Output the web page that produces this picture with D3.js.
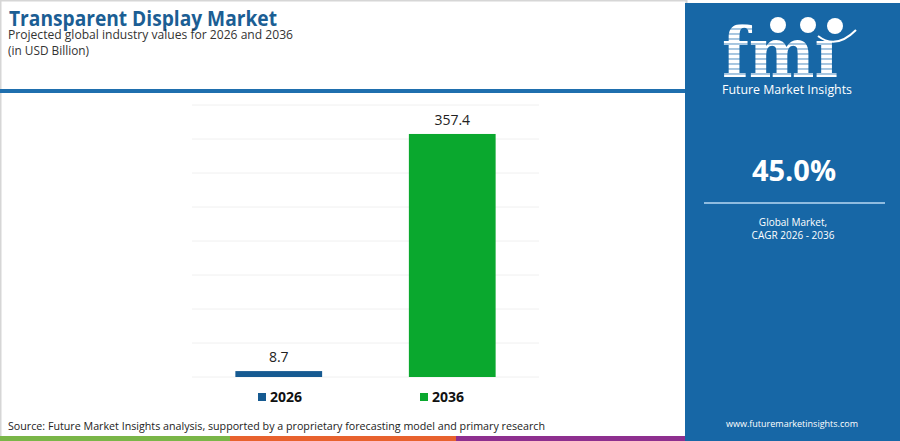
<!DOCTYPE html>
<html>
<head>
<meta charset="utf-8">
<script src="https://cdn.jsdelivr.net/npm/d3@7"></script>
<style>
  body { margin: 0; background: #fff; }
  text { font-family: "Open Sans", sans-serif; }
</style>
</head>
<body>
<div id="chart"></div>
<script>
// values
const years = ["2026", "2036"]
const values = [8.7, 357.4]
const barColors = ["#165a91", "#0aa82e"]
const yTicks = [0, 50, 100, 150, 200, 250, 300, 350, 400]
const cagr = "45.0%"
const stripeColors = ["#7ab648", "#e8622e", "#8e2f8f"]

const W = 900, H = 441

let svg = d3.select("#chart").append("svg")
    .attr("width", W)
    .attr("height", H)

// frame
svg.append("rect")
    .attr("x", 0.5).attr("y", 0.5)
    .attr("width", 686).attr("height", H - 1)
    .attr("fill", "#fff")
    .attr("stroke", "#d6d6d6")
    .attr("stroke-width", 2)

// title block
svg.append("text")
    .attr("x", 9).attr("y", 26)
    .text("Transparent Display Market")
    .attr("textLength", 268)
    .attr("lengthAdjust", "spacingAndGlyphs")
    .style("font-size", "22px")
    .style("font-weight", "bold")
    .attr("fill", "#1b5e94")

svg.append("text")
    .attr("x", 8).attr("y", 39)
    .text("Projected global industry values for 2026 and 2036")
    .attr("textLength", 285)
    .attr("lengthAdjust", "spacingAndGlyphs")
    .style("font-size", "13px")
    .attr("fill", "#333")

svg.append("text")
    .attr("x", 8).attr("y", 55)
    .text("(in USD Billion)")
    .attr("textLength", 81)
    .attr("lengthAdjust", "spacingAndGlyphs")
    .style("font-size", "13px")
    .attr("fill", "#333")

svg.append("rect")
    .attr("x", 0).attr("y", 89)
    .attr("width", 686).attr("height", 4)
    .attr("fill", "#1f6fae")

// plot
const x = d3.scaleBand()
    .domain(years)
    .range([192, 539])
    .paddingInner(0.5)
    .paddingOuter(0.25)

const y = d3.scaleLinear()
    .domain([0, 400])
    .range([377, 105])

svg.append("g")
    .selectAll("line")
    .data(yTicks)
    .join("line")
    .attr("x1", 192).attr("x2", 539)
    .attr("y1", d => y(d)).attr("y2", d => y(d))
    .attr("stroke", "#f0f0f0")
    .attr("stroke-width", 1)

svg.append("g")
    .selectAll("rect")
    .data(values)
    .join("rect")
    .attr("x", (d, i) => x(years[i]))
    .attr("width", x.bandwidth())
    .attr("y", d => y(d))
    .attr("height", d => y(0) - y(d))
    .attr("fill", (d, i) => barColors[i])

svg.append("g")
    .selectAll("text")
    .data(values)
    .join("text")
    .attr("x", (d, i) => x(years[i]) + x.bandwidth() / 2)
    .attr("y", d => y(d) - 9)
    .attr("text-anchor", "middle")
    .text(d => d)
    .style("font-size", "14px")
    .attr("fill", "#222")

// legend
const legX = d3.scalePoint().domain(years).range([258, 420])
let leg = svg.append("g")
    .selectAll("g")
    .data(years)
    .join("g")
    .attr("transform", d => "translate(" + legX(d) + ",393)")
leg.append("rect")
    .attr("width", 8).attr("height", 8)
    .attr("fill", (d, i) => barColors[i])
leg.append("text")
    .attr("x", 12).attr("y", 9)
    .text(d => d)
    .style("font-size", "14px")
    .style("font-weight", "bold")
    .attr("fill", "#111")

svg.append("text")
    .attr("x", 8).attr("y", 430)
    .text("Source: Future Market Insights analysis, supported by a proprietary forecasting model and primary research")
    .attr("textLength", 537)
    .attr("lengthAdjust", "spacingAndGlyphs")
    .style("font-size", "11px")
    .attr("fill", "#222")

// bottom stripe
const stripeX = [0, 230, 456, 686]
svg.append("g")
    .selectAll("rect")
    .data(stripeColors)
    .join("rect")
    .attr("x", (d, i) => stripeX[i])
    .attr("width", (d, i) => stripeX[i + 1] - stripeX[i])
    .attr("y", 436).attr("height", 5)
    .attr("fill", d => d)

// right panel
svg.append("rect")
    .attr("x", 685).attr("y", 3)
    .attr("width", 215).attr("height", H - 3)
    .attr("fill", "#1767a6")

// logo: striped "fmi"
let defs = svg.append("defs")
let pat = defs.append("pattern")
    .attr("id", "stripes")
    .attr("patternUnits", "userSpaceOnUse")
    .attr("width", 10).attr("height", 5)
pat.append("rect").attr("width", 10).attr("height", 3.6).attr("fill", "#fff")
pat.append("rect").attr("y", 3.6).attr("width", 10).attr("height", 1.4).attr("fill", "#a9c8e2")

svg.append("text")
    .attr("x", 780).attr("y", 77)
    .attr("text-anchor", "middle")
    .text("fmı")
    .attr("textLength", 116)
    .attr("lengthAdjust", "spacingAndGlyphs")
    .style("font-family", "'DejaVu Serif', serif")
    .style("font-size", "70px")
    .style("font-weight", "bold")
    .attr("fill", "url(#stripes)")

const globes = [[778, 25], [808, 25], [835, 26]]
svg.append("g")
    .selectAll("circle")
    .data(globes)
    .join("circle")
    .attr("cx", d => d[0]).attr("cy", d => d[1])
    .attr("r", 8)
    .attr("fill", "#fff")
svg.append("path")
    .attr("d", "M818,36 Q836,50 856,30")
    .attr("fill", "none")
    .attr("stroke", "#fff")
    .attr("stroke-width", 2)

svg.append("text")
    .attr("x", 787).attr("y", 94)
    .attr("text-anchor", "middle")
    .text("Future Market Insights")
    .attr("textLength", 130)
    .attr("lengthAdjust", "spacingAndGlyphs")
    .style("font-size", "13px")
    .attr("fill", "#fff")

svg.append("text")
    .attr("x", 794).attr("y", 181)
    .attr("text-anchor", "middle")
    .text(cagr)
    .style("font-size", "29px")
    .style("font-weight", "bold")
    .attr("fill", "#fff")

svg.append("line")
    .attr("x1", 704).attr("x2", 885)
    .attr("y1", 203).attr("y2", 203)
    .attr("stroke", "#8fbce0")
    .attr("stroke-width", 2)

svg.append("text")
    .attr("x", 793).attr("y", 226)
    .attr("text-anchor", "middle")
    .text("Global Market,")
    .style("font-size", "10px")
    .attr("fill", "#fff")

svg.append("text")
    .attr("x", 793).attr("y", 239)
    .attr("text-anchor", "middle")
    .text("CAGR 2026 - 2036")
    .style("font-size", "10px")
    .attr("fill", "#fff")

svg.append("text")
    .attr("x", 792).attr("y", 427)
    .attr("text-anchor", "middle")
    .text("www.futuremarketinsights.com")
    .style("font-size", "9px")
    .attr("fill", "#fff")
</script>
</body>
</html>
